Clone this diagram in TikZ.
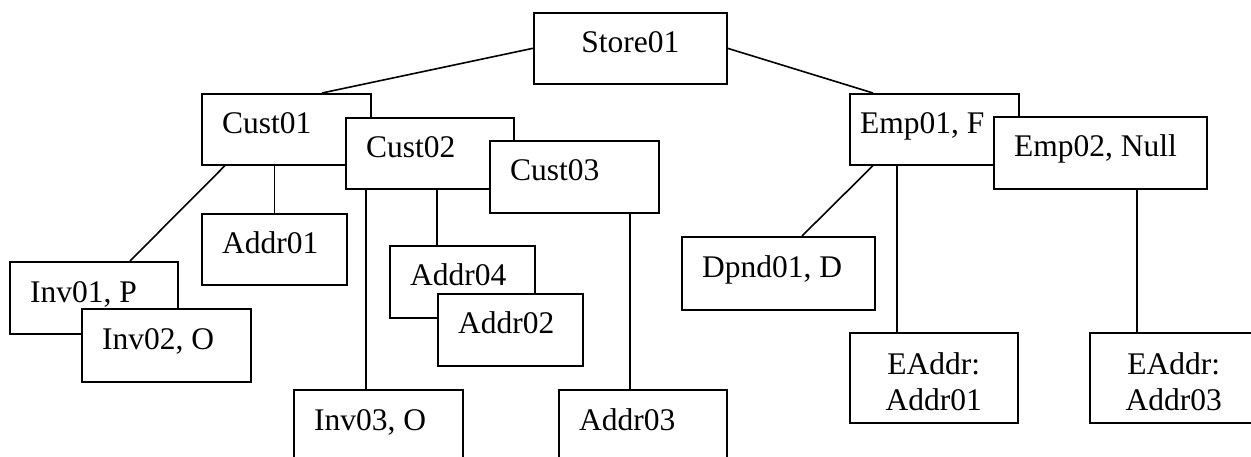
\documentclass[tikz,border=0pt]{standalone}
\usepackage{fontspec}
\setmainfont{Liberation Serif}
\usetikzlibrary{calc}
\begin{document}
\begin{tikzpicture}[x=1pt,y=-1pt,
  bx/.style={draw, fill=white, line width=1.6pt, inner sep=0pt, anchor=north west, minimum height=71pt},
  tx/.style={inner sep=0pt, font=\fontsize{31.5}{36}\selectfont, anchor=base west},
  ctx/.style={inner sep=0pt, font=\fontsize{31.5}{36}\selectfont, anchor=base},
  ln/.style={line width=1.6pt}]
\useasboundingbox (0,0) rectangle (1251,457);

% boxes and their texts
\node[bx, minimum width=193pt] (store01) at (533,12) {};
\node[ctx] (store01t) at ($(store01.north)+(0,41)$) {Store01};

\node[bx, minimum width=169pt] (cust01) at (201,93) {};
\node[tx] (cust01t) at ($(cust01.north west)+(21,41)$) {Cust01};
\node[bx, minimum width=168pt] (cust02) at (345,117) {};
\node[tx] (cust02t) at ($(cust02.north west)+(21,41)$) {Cust02};
\node[bx, minimum width=169pt, minimum height=72pt] (cust03) at (489,140) {};
\node[tx] (cust03t) at ($(cust03.north west)+(21,41)$) {Cust03};

\node[bx, minimum width=145pt] (addr01) at (201,213) {};
\node[tx] (addr01t) at ($(addr01.north west)+(21,41)$) {Addr01};

\node[bx, minimum width=168pt, minimum height=72pt] (inv01) at (9,261) {};
\node[tx] (inv01t) at ($(inv01.north west)+(21,41)$) {Inv01, P};
\node[bx, minimum width=169pt, minimum height=73pt] (inv02) at (81,308) {};
\node[tx] (inv02t) at ($(inv02.north west)+(21,41)$) {Inv02, O};

\node[bx, minimum width=145pt, minimum height=72pt] (addr04) at (389,245) {};
\node[tx] (addr04t) at ($(addr04.north west)+(21,41)$) {Addr04};
\node[bx, minimum width=145pt, minimum height=72pt] (addr02) at (437,293) {};
\node[tx] (addr02t) at ($(addr02.north west)+(21,41)$) {Addr02};

\node[bx, minimum width=169pt] (inv03) at (293,389) {};
\node[tx] (inv03t) at ($(inv03.north west)+(21,41)$) {Inv03, O};
\node[bx, minimum width=168pt] (addr03) at (558,389) {};
\node[tx] (addr03t) at ($(addr03.north west)+(21,41)$) {Addr03};

\node[bx, minimum width=169pt] (emp01) at (849,93) {};
\node[tx] (emp01t) at ($(emp01.north west)+(11,41)$) {Emp01, F};
\node[bx, minimum width=213pt, minimum height=72pt] (emp02) at (993,116) {};
\node[tx] (emp02t) at ($(emp02.north west)+(21,41)$) {Emp02, Null};

\node[bx, minimum width=193pt, minimum height=73pt] (dpnd01) at (681,236) {};
\node[tx] (dpnd01t) at ($(dpnd01.north west)+(21,41)$) {Dpnd01, D};

\node[bx, minimum width=168pt, minimum height=90pt] (eaddr1) at (849,332) {};
\node[ctx] (eaddr1a) at ($(eaddr1.north)+(0,42)$) {EAddr:};
\node[ctx] (eaddr1b) at ($(eaddr1.north)+(0,78)$) {Addr01};
\node[bx, minimum width=168pt, minimum height=90pt] (eaddr3) at (1089,332) {};
\node[ctx] (eaddr3a) at ($(eaddr3.north)+(0,42)$) {EAddr:};
\node[ctx] (eaddr3b) at ($(eaddr3.north)+(0,78)$) {Addr03};

% connectors
\draw[ln] (store01.west) -- ($(cust01.north west)+(121,0)$);
\draw[ln] (store01.east) -- ($(emp01.north west)+(24,0)$);
\draw[ln] ($(cust01.south west)+(24,0)$) -- ($(inv01.north west)+(121,0)$);
\draw[ln] (addr01.north |- cust01.south) -- (addr01.north);
\draw[ln] ($(cust02.south west)+(21,0)$) coordinate (c2a) -- (c2a |- inv03.north);
\draw[ln] ($(cust02.south west)+(92,0)$) coordinate (c2b) -- (c2b |- addr04.north);
\draw[ln] ($(cust03.south west)+(141,0)$) coordinate (c3) -- (c3 |- addr03.north);
\draw[ln] ($(emp01.south west)+(24,0)$) -- ($(dpnd01.north west)+(121,0)$);
\draw[ln] ($(emp01.south west)+(48,0)$) coordinate (e1) -- (e1 |- eaddr1.north);
\draw[ln] ($(emp02.south west)+(144,0)$) coordinate (e2) -- (e2 |- eaddr3.north);
\end{tikzpicture}
\end{document}
